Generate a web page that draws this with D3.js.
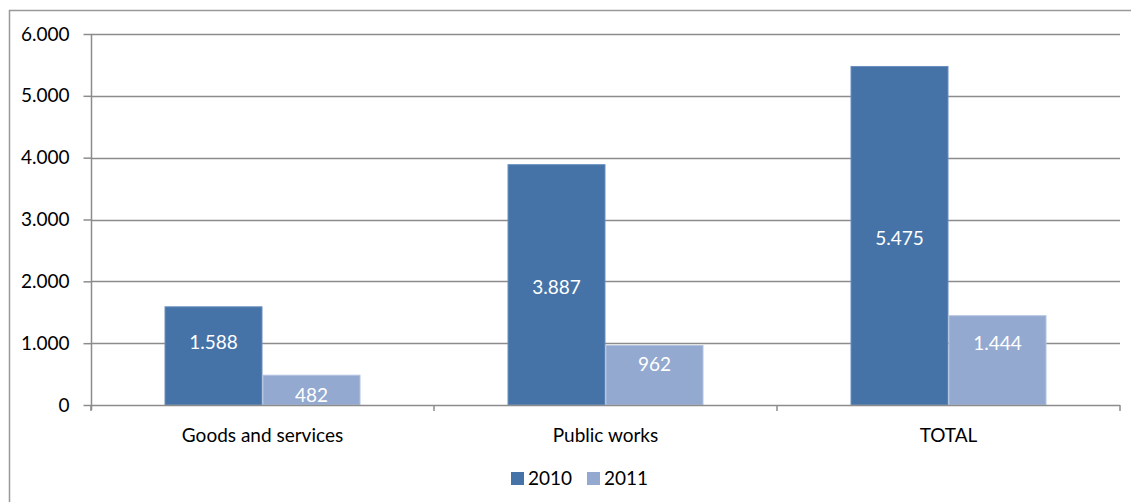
<!DOCTYPE html>
<html>
<head>
<meta charset="utf-8">
<script src="https://cdn.jsdelivr.net/npm/d3@7"></script>
<style>
  html, body { margin: 0; padding: 0; background: #fff; }
  svg { display: block; }
  text { font-family: Lato, "Open Sans", sans-serif; }
</style>
</head>
<body>
<svg id="chart" width="1131" height="502"></svg>
<script>
// Categories and yearly values
const categories = ["Goods and services", "Public works", "TOTAL"];
const series = ["2010", "2011"];
const values2010 = [1588, 3887, 5475];
const values2011 = [482, 962, 1444];
// Where each value label sits, in value units
const labelAt2010 = [1020, 1910, 2700];
const labelAt2011 = [160, 665, 1005];
const yTicks = [0, 1000, 2000, 3000, 4000, 5000, 6000];

const colors = { "2010": "#4573A7", "2011": "#94A9D0" };
const strokes = { "2010": "#6a8fbf", "2011": "#b3c3e0" };

const svg = d3.select("#chart");
const W = 1131, H = 502;
const plot = { left: 91, right: 1120, top: 34, bottom: 405 };
const FS = 19;

const locale = d3.formatLocale({ decimal: ",", thousands: ".", grouping: [3], currency: ["", ""] });
const fmt = locale.format(",d");

// Outer frame
svg.append("rect")
  .attr("x", 9.5).attr("y", 10.5)
  .attr("width", W + 10).attr("height", H + 10)
  .attr("fill", "none").attr("stroke", "#999").attr("stroke-width", 1.5);

const x = d3.scaleBand().domain(categories).range([plot.left, plot.right]).padding(0);
const xs = d3.scaleBand().domain(series).range([0, x.bandwidth()]).paddingInner(0).paddingOuter(0.75);
const y = d3.scaleLinear().domain([0, 6000]).range([plot.bottom, plot.top]);

// Gridlines
svg.append("g")
  .selectAll("line").data(yTicks.filter(d => d > 0)).join("line")
  .attr("x1", plot.left).attr("x2", plot.right)
  .attr("y1", d => Math.round(y(d)) + 0.5).attr("y2", d => Math.round(y(d)) + 0.5)
  .attr("stroke", "#8c8c8c").attr("stroke-width", 1.5);

// Bars
const rows = categories.map((c, i) => ({
  cat: c,
  items: [
    { s: "2010", v: values2010[i], at: labelAt2010[i] },
    { s: "2011", v: values2011[i], at: labelAt2011[i] }
  ]
}));

const groups = svg.append("g").selectAll("g").data(rows).join("g")
  .attr("transform", d => `translate(${x(d.cat)},0)`);

groups.selectAll("rect").data(d => d.items).join("rect")
  .attr("x", d => xs(d.s) + 0.5)
  .attr("y", d => y(d.v))
  .attr("width", xs.bandwidth() - 1)
  .attr("height", d => y(0) - y(d.v))
  .attr("fill", d => colors[d.s])
  .attr("stroke", d => strokes[d.s]).attr("stroke-width", 1);

groups.selectAll("text").data(d => d.items).join("text")
  .attr("x", d => xs(d.s) + xs.bandwidth() / 2)
  .attr("y", d => y(d.at))
  .attr("dy", "0.36em")
  .attr("text-anchor", "middle")
  .attr("fill", "#fff")
  .attr("font-size", FS)
  .text(d => fmt(d.v));

// Y axis
const yAxis = svg.append("g")
  .attr("transform", `translate(${plot.left + 0.5},0)`)
  .call(d3.axisLeft(y).tickValues(yTicks).tickFormat(fmt).tickSize(8).tickPadding(14));
yAxis.select(".domain").attr("stroke", "#8c8c8c").attr("stroke-width", 1.5)
  .attr("d", `M0,${plot.top}V${plot.bottom + 5}`);
yAxis.selectAll(".tick line").attr("stroke", "#8c8c8c").attr("stroke-width", 1.5);
yAxis.selectAll(".tick text").attr("fill", "#000").attr("font-size", FS)
  .style("font-family", "Lato, 'Open Sans', sans-serif");

// X axis
const xAxisG = svg.append("g");
xAxisG.append("line")
  .attr("x1", plot.left).attr("x2", plot.right)
  .attr("y1", plot.bottom + 0.5).attr("y2", plot.bottom + 0.5)
  .attr("stroke", "#8c8c8c").attr("stroke-width", 1.5);
const bounds = categories.map(c => x(c)).concat([x(categories[categories.length - 1]) + x.bandwidth()]);
xAxisG.selectAll("line.tk").data(bounds).join("line").attr("class", "tk")
  .attr("x1", d => d).attr("x2", d => d)
  .attr("y1", plot.bottom).attr("y2", plot.bottom + 6)
  .attr("stroke", "#8c8c8c").attr("stroke-width", 1.5);
xAxisG.selectAll("text").data(categories).join("text")
  .attr("x", d => x(d) + x.bandwidth() / 2)
  .attr("y", 435).attr("dy", "0.36em")
  .attr("text-anchor", "middle").attr("fill", "#000").attr("font-size", FS)
  .text(d => d);

// Legend
const legend = svg.append("g").attr("transform", "translate(511,472)");
const legendX = { "2010": 0, "2011": 76 };
series.forEach(s => {
  const g = legend.append("g").attr("transform", `translate(${legendX[s]},0)`);
  g.append("rect").attr("width", 13).attr("height", 13).attr("fill", colors[s]);
  g.append("text").attr("x", 17).attr("y", 6.5).attr("dy", "0.36em")
    .attr("fill", "#000").attr("font-size", FS).text(s);
});
</script>
</body>
</html>
